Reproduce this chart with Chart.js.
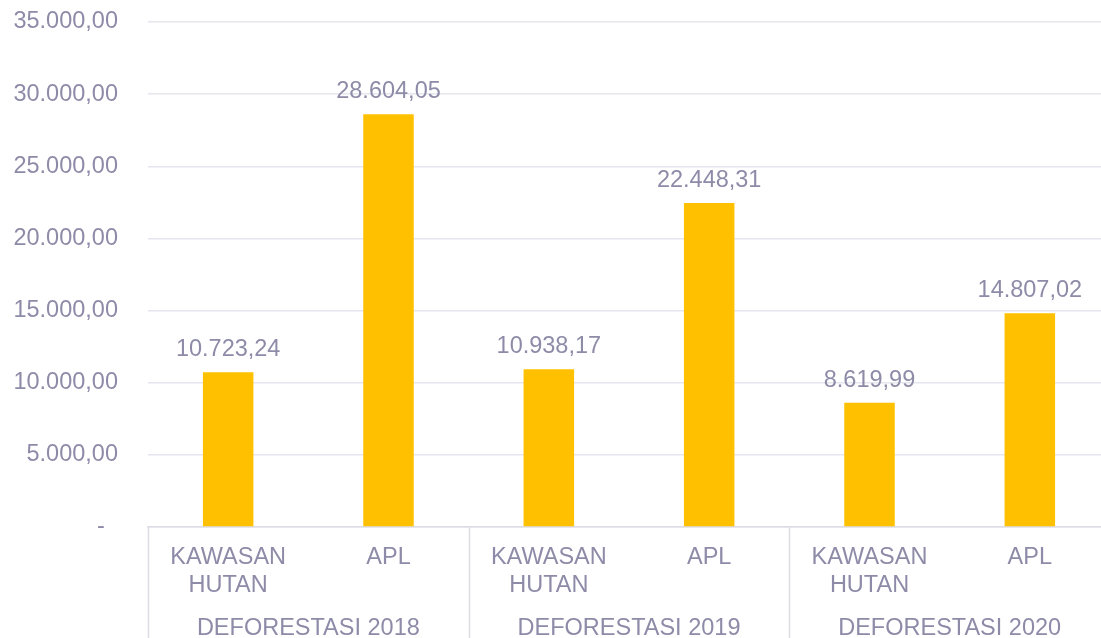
<!DOCTYPE html>
<html>
<head>
<meta charset="utf-8">
<script src="https://cdn.jsdelivr.net/npm/chart.js@4"></script>
<style>
  html, body { margin: 0; padding: 0; overflow: hidden; background: #fff; }
  #wrap { width: 1110px; height: 638px; }
</style>
</head>
<body>
<div id="wrap"><canvas id="myChart" width="1110" height="638"></canvas></div>
<script>
// data
const groups = ["DEFORESTASI 2018", "DEFORESTASI 2019", "DEFORESTASI 2020"];
const subLabels = [["KAWASAN", "HUTAN"], ["APL"]];
const values = [10723.24, 28604.05, 10938.17, 22448.31, 8619.99, 14807.02];
const yMax = 35000;
const yStep = 5000;

const textColor = "#8E8BA8";
const fontFamily = "'Liberation Sans', Arial, sans-serif";
const fontSize = 23.5;

function fmt(v) {
    let parts = v.toFixed(2).split(".");
    let int = parts[0].replace(/\B(?=(\d{3})+(?!\d))/g, ".");
    return int + "," + parts[1];
}

let labels = [];
groups.forEach(() => {
    subLabels.forEach((s) => labels.push(s));
});

// value labels above bars
const valueLabels = {
    id: "valueLabels",
    afterDatasetsDraw(chart) {
        const ctx = chart.ctx;
        const meta = chart.getDatasetMeta(0);
        ctx.save();
        ctx.font = fontSize + "px " + fontFamily;
        ctx.fillStyle = textColor;
        ctx.textAlign = "center";
        ctx.textBaseline = "alphabetic";
        meta.data.forEach((bar, i) => {
            ctx.fillText(fmt(values[i]), bar.x, bar.y - 16);
        });
        ctx.restore();
    },
};

// group labels and separators under the category axis
const groupAxis = {
    id: "groupAxis",
    afterDraw(chart) {
        const ctx = chart.ctx;
        const area = chart.chartArea;
        const slot = (area.right - area.left) / labels.length;
        const per = subLabels.length;
        ctx.save();
        ctx.strokeStyle = "#DCDCE4";
        ctx.lineWidth = 1.5;
        for (let k = 0; k <= groups.length; k++) {
            let x = Math.round(area.left + k * per * slot) + 0.5;
            ctx.beginPath();
            ctx.moveTo(x, area.bottom);
            ctx.lineTo(x, chart.height);
            ctx.stroke();
        }
        ctx.font = fontSize + "px " + fontFamily;
        ctx.fillStyle = textColor;
        ctx.textAlign = "center";
        ctx.textBaseline = "middle";
        groups.forEach((g, k) => {
            ctx.fillText(g, area.left + (k * per + per / 2) * slot, 629);
        });
        ctx.restore();
    },
};

const config = {
    type: "bar",
    data: {
        labels: labels,
        datasets: [
            {
                data: values,
                backgroundColor: "#FFC000",
                borderWidth: 0,
                barPercentage: 0.315,
                categoryPercentage: 1,
            },
        ],
    },
    options: {
        responsive: false,
        animation: false,
        layout: { padding: { top: 22, right: 0, left: 0, bottom: 0 } },
        plugins: {
            legend: { display: false },
            tooltip: { enabled: false },
        },
        scales: {
            x: {
                grid: { display: false, drawTicks: false },
                border: { display: true, color: "#DCDCE4", width: 1.5 },
                ticks: {
                    color: textColor,
                    font: { family: fontFamily, size: fontSize, lineHeight: 1.2 },
                    padding: 16,
                    maxRotation: 0,
                    autoSkip: false,
                },
                afterFit: (scale) => {
                    scale.height = 111;
                    scale.paddingLeft = 0;
                    scale.paddingRight = 0;
                },
            },
            y: {
                min: 0,
                max: yMax,
                grid: { color: "#E6E6EE", lineWidth: 1.5, drawTicks: false },
                border: { display: false },
                ticks: {
                    stepSize: yStep,
                    color: textColor,
                    font: { family: fontFamily, size: fontSize },
                    padding: 30,
                    callback: (v) => (v === 0 ? "-  " : fmt(v)),
                },
                afterFit: (scale) => {
                    scale.width = 148;
                    scale.paddingTop = 0;
                    scale.paddingBottom = 0;
                },
            },
        },
    },
    plugins: [valueLabels, groupAxis],
};

new Chart(document.getElementById("myChart"), config);
</script>
</body>
</html>
